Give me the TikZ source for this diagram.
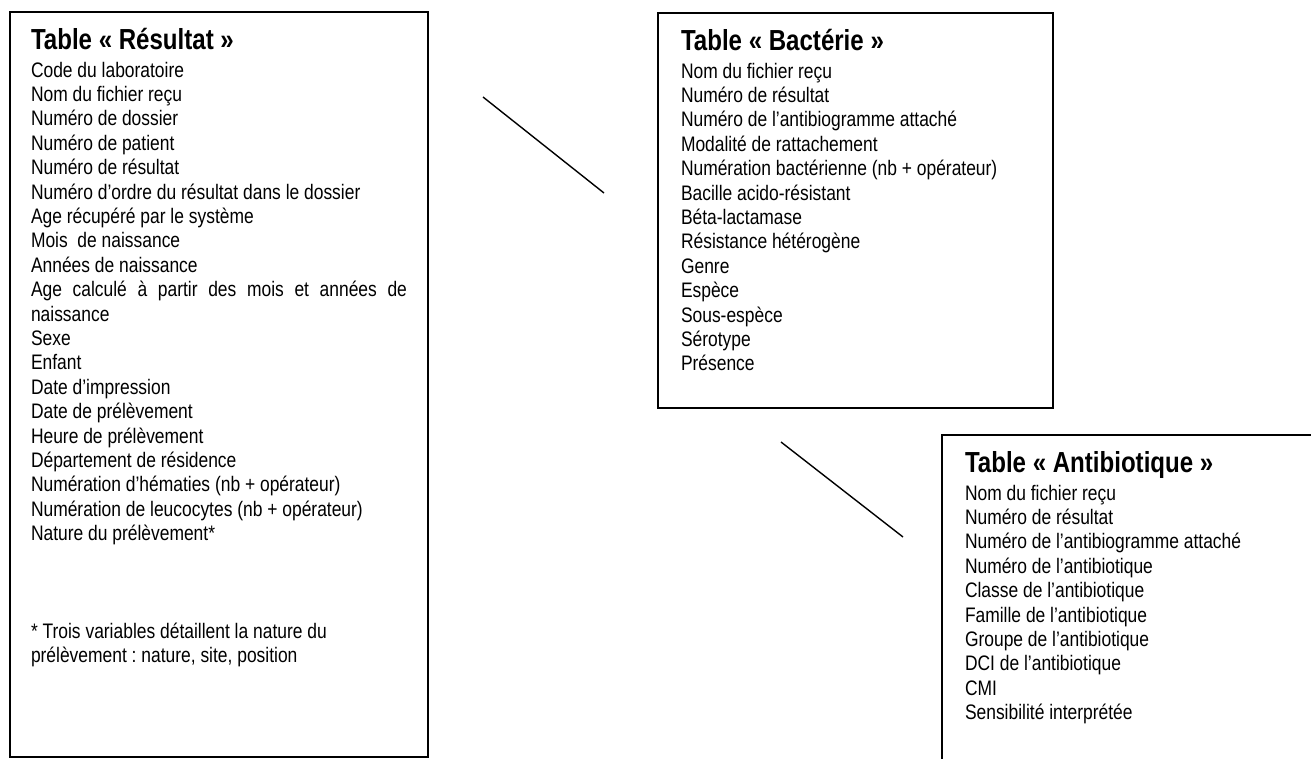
\documentclass[tikz,border=0pt]{standalone}
\usepackage{fontspec}
\setmainfont{Liberation Sans}[FakeStretch=0.83]
\frenchspacing
\tikzset{
 tbox/.style={draw=black, line width=2pt, rectangle, inner sep=0pt, outer sep=0pt, anchor=north west},
 ttitle/.style={font=\fontsize{29}{33}\selectfont\bfseries, inner sep=0pt, outer sep=0pt, anchor=base west},
 tbody/.style={font=\fontsize{21}{24.4}\selectfont\frenchspacing, align=left, inner sep=0pt, outer sep=0pt, anchor=north west},
 link/.style={draw=black, line width=1.4pt},
}
\begin{document}
\begin{tikzpicture}[x=1pt,y=-1pt]
\useasboundingbox (0,0) rectangle (1311,758);
\clip (0,0) rectangle (1311,758);
\fill[white] (0,0) rectangle (1311,758);

% Table Résultat
\node[tbox, minimum width=418pt, minimum height=745pt] (res) at (10,12) {};
\node[ttitle] (restitle) at (31,49) {Table « Résultat »};
\node[tbody] (resbody) at (31,60) {\rule{0pt}{17pt}Code du laboratoire\\
Nom du fichier reçu\\
Numéro de dossier\\
Numéro de patient\\
Numéro de résultat\\
Numéro d’ordre du résultat dans le dossier\\
Age récupéré par le système\\
Mois~ de naissance\\
Années de naissance\\
\makebox[376pt][s]{Age calculé à partir des mois et années de}\\
naissance\\
Sexe\\
Enfant\\
Date d’impression\\
Date de prélèvement\\
Heure de prélèvement\\
Département de résidence\\
Numération d’hématies (nb + opérateur)\\
Numération de leucocytes (nb + opérateur)\\
Nature du prélèvement*\\[73.2pt]
{}* Trois variables détaillent la nature du\\
prélèvement : nature, site, position};

% Table Bactérie
\node[tbox, minimum width=395pt, minimum height=395pt] (bac) at (658,13) {};
\node[ttitle] (bactitle) at (681,50) {Table « Bactérie »};
\node[tbody] (bacbody) at (681,61) {\rule{0pt}{17pt}Nom du fichier reçu\\
Numéro de résultat\\
Numéro de l’antibiogramme attaché\\
Modalité de rattachement\\
Numération bactérienne (nb + opérateur)\\
Bacille acido-résistant\\
Béta-lactamase\\
Résistance hétérogène\\
Genre\\
Espèce\\
Sous-espèce\\
Sérotype\\
Présence};

% Table Antibiotique
\node[tbox, minimum width=420pt, minimum height=400pt] (atb) at (942,435) {};
\node[ttitle] (atbtitle) at (965,472) {Table « Antibiotique »};
\node[tbody] (atbbody) at (965,483) {\rule{0pt}{17pt}Nom du fichier reçu\\
Numéro de résultat\\
Numéro de l’antibiogramme attaché\\
Numéro de l’antibiotique\\
Classe de l’antibiotique\\
Famille de l’antibiotique\\
Groupe de l’antibiotique\\
DCI de l’antibiotique\\
CMI\\
Sensibilité interprétée};

% connectors
\coordinate (l1a) at (483,97);
\coordinate (l1b) at (604,193);
\coordinate (l2a) at (781,442);
\coordinate (l2b) at (903,537);
\draw[link] (l1a) -- (l1b);
\draw[link] (l2a) -- (l2b);
\end{tikzpicture}
\end{document}
